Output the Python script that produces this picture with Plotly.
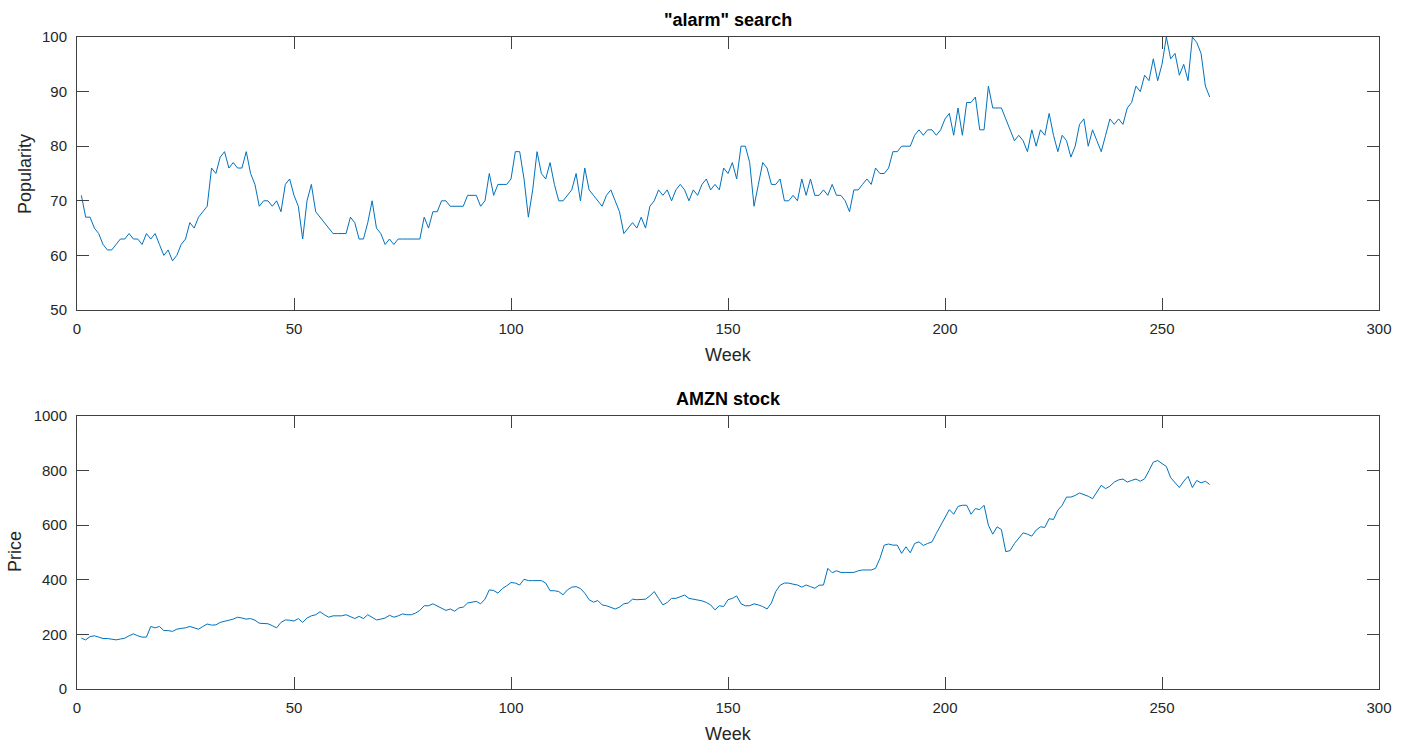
import plotly.graph_objects as go

# ---------------- data ----------------
weeks = list(range(1, 262))

alarm_popularity = [
    71, 67, 67, 65, 64, 62, 61, 61, 62, 63,
    63, 64, 63, 63, 62, 64, 63, 64, 62, 60,
    61, 59, 60, 62, 63, 66, 65, 67, 68, 69,
    76, 75, 78, 79, 76, 77, 76, 76, 79, 75,
    73, 69, 70, 70, 69, 70, 68, 73, 74, 71,
    69, 63, 70, 73, 68, 67, 66, 65, 64, 64,
    64, 64, 67, 66, 63, 63, 66, 70, 65, 64,
    62, 63, 62, 63, 63, 63, 63, 63, 63, 67,
    65, 68, 68, 70, 70, 69, 69, 69, 69, 71,
    71, 71, 69, 70, 75, 71, 73, 73, 73, 74,
    79, 79, 74, 67, 72, 79, 75, 74, 77, 73,
    70, 70, 71, 72, 75, 70, 76, 72, 71, 70,
    69, 71, 72, 70, 68, 64, 65, 66, 65, 67,
    65, 69, 70, 72, 71, 72, 70, 72, 73, 72,
    70, 72, 71, 73, 74, 72, 73, 72, 76, 75,
    77, 74, 80, 80, 77, 69, 73, 77, 76, 73,
    73, 74, 70, 70, 71, 70, 74, 71, 74, 71,
    71, 72, 71, 73, 71, 71, 70, 68, 72, 72,
    73, 74, 73, 76, 75, 75, 76, 79, 79, 80,
    80, 80, 82, 83, 82, 83, 83, 82, 83, 85,
    86, 82, 87, 82, 88, 88, 89, 83, 83, 91,
    87, 87, 87, 85, 83, 81, 82, 81, 79, 83,
    80, 83, 82, 86, 82, 79, 82, 81, 78, 80,
    84, 85, 80, 83, 81, 79, 82, 85, 84, 85,
    84, 87, 88, 91, 90, 93, 92, 96, 92, 95,
    100, 96, 97, 93, 95, 92, 100, 99, 97, 91, 89,
]

amzn_price = [
    186, 180, 192, 195, 190, 185, 185, 183, 180, 183,
    186, 195, 202, 195, 190, 190, 229, 224, 229, 214,
    214, 211, 219, 222, 224, 229, 223, 219, 229, 238,
    234, 235, 244, 249, 252, 256, 263, 260, 256, 258,
    252, 241, 239, 239, 232, 224, 244, 253, 252, 249,
    258, 244, 260, 268, 272, 283, 272, 263, 268, 268,
    268, 272, 266, 258, 266, 258, 272, 263, 253, 256,
    260, 270, 263, 268, 275, 272, 272, 278, 288, 305,
    305, 312, 305, 295, 288, 293, 285, 297, 300, 315,
    318, 321, 312, 329, 363, 361, 351, 368, 378, 390,
    388, 381, 402, 397, 397, 397, 397, 388, 360, 360,
    357, 345, 363, 373, 375, 368, 351, 327, 318, 324,
    308, 305, 300, 293, 300, 312, 315, 329, 327, 327,
    329, 341, 357, 332, 308, 317, 332, 332, 338, 344,
    332, 329, 327, 323, 317, 308, 290, 305, 302, 327,
    332, 341, 312, 305, 305, 312, 308, 302, 293, 315,
    357, 380, 388, 388, 384, 381, 373, 381, 375, 369,
    380, 381, 442, 426, 433, 427, 427, 427, 427, 433,
    436, 436, 436, 442, 478, 527, 531, 527, 527, 497,
    521, 499, 533, 539, 526, 533, 539, 570, 600, 627,
    657, 640, 669, 673, 673, 640, 661, 657, 673, 600,
    567, 594, 584, 503, 507, 533, 551, 572, 567, 560,
    582, 594, 592, 624, 621, 655, 673, 703, 703, 709,
    718, 713, 706, 697, 722, 746, 734, 743, 758, 766,
    769, 758, 764, 769, 761, 770, 800, 831, 837, 825,
    815, 774, 755, 738, 761, 779, 738, 764, 755, 761, 749,
]

x_ticks = [0, 50, 100, 150, 200, 250, 300]
top_y_ticks = [50, 60, 70, 80, 90, 100]
bottom_y_ticks = [0, 200, 400, 600, 800, 1000]

top_title = '"alarm" search'
bottom_title = 'AMZN stock'
x_label = 'Week'
top_y_label = 'Popularity'
bottom_y_label = 'Price'

# ---------------- figure ----------------
W, H = 1406, 744
ML, MR, MT, MB = 77, 27, 37, 55
PW, PH = W - ML - MR, H - MT - MB


def px_x(x):
    return (x - ML) / PW


def px_y(y):
    return (H - MB - y) / PH


LINE = '#0072BD'
AX = '#262626'
TICKC = '#404040'
FONT = 'Liberation Sans, Arial, Helvetica, sans-serif'

fig = go.Figure()
fig.add_trace(go.Scatter(x=weeks, y=alarm_popularity, mode='lines',
                         line=dict(color=LINE, width=1), xaxis='x', yaxis='y',
                         showlegend=False))
fig.add_trace(go.Scatter(x=weeks, y=amzn_price, mode='lines',
                         line=dict(color=LINE, width=1), xaxis='x2', yaxis='y2',
                         showlegend=False))

top_dom = [px_y(310), 1.0]
bot_dom = [0.0, px_y(416)]

common = dict(showgrid=False, zeroline=False, showline=True, linecolor=TICKC,
              linewidth=1, mirror='allticks', ticks='inside', ticklen=12,
              tickcolor=TICKC, tickwidth=1,
              tickfont=dict(family=FONT, size=15, color=AX))
xcommon = dict(common, ticklabelstandoff=5)
ycommon = dict(common, ticklabelstandoff=6)

fig.update_layout(
    width=W, height=H,
    margin=dict(l=ML, r=MR, t=MT, b=MB),
    paper_bgcolor='white', plot_bgcolor='white',
    font=dict(family=FONT, color=AX),
    xaxis=dict(domain=[0, 1], range=[0, 300], tickvals=x_ticks, anchor='y', **xcommon),
    yaxis=dict(domain=top_dom, range=[50, 100], tickvals=top_y_ticks, anchor='x', **ycommon),
    xaxis2=dict(domain=[0, 1], range=[0, 300], tickvals=x_ticks, anchor='y2', **xcommon),
    yaxis2=dict(domain=bot_dom, range=[0, 1000], tickvals=bottom_y_ticks, anchor='x2', **ycommon),
)

ann = []
ann.append(dict(text='<b>' + top_title + '</b>', x=0.5, y=px_y(20), xref='paper', yref='paper',
                showarrow=False, xanchor='center', yanchor='middle',
                font=dict(family=FONT, size=18, color='black')))
ann.append(dict(text='<b>' + bottom_title + '</b>', x=0.5, y=px_y(399), xref='paper', yref='paper',
                showarrow=False, xanchor='center', yanchor='middle',
                font=dict(family=FONT, size=18, color='black')))
ann.append(dict(text=x_label, x=0.5, y=px_y(355), xref='paper', yref='paper',
                showarrow=False, xanchor='center', yanchor='middle',
                font=dict(family=FONT, size=18, color=AX)))
ann.append(dict(text=x_label, x=0.5, y=px_y(734), xref='paper', yref='paper',
                showarrow=False, xanchor='center', yanchor='middle',
                font=dict(family=FONT, size=18, color=AX)))
ann.append(dict(text=top_y_label, x=px_x(25), y=px_y(174), xref='paper', yref='paper',
                showarrow=False, xanchor='center', yanchor='middle', textangle=-90,
                font=dict(family=FONT, size=18, color=AX)))
ann.append(dict(text=bottom_y_label, x=px_x(15), y=px_y(552), xref='paper', yref='paper',
                showarrow=False, xanchor='center', yanchor='middle', textangle=-90,
                font=dict(family=FONT, size=18, color=AX)))
fig.update_layout(annotations=ann)

fig.write_html('out.html')
